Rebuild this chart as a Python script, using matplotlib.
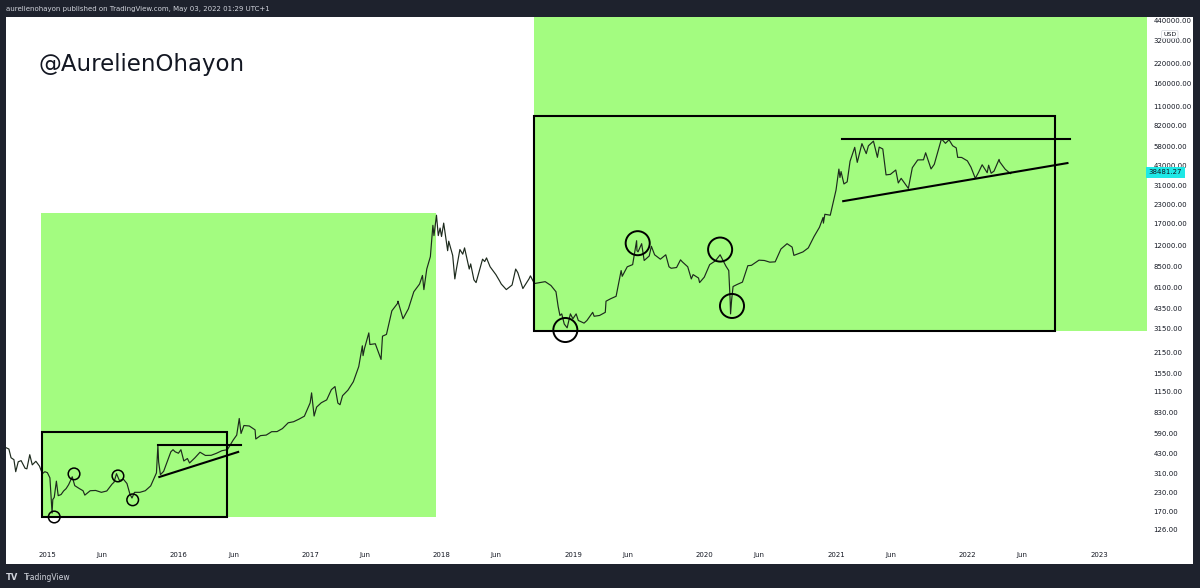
import numpy as np
import pandas as pd
import matplotlib
matplotlib.use("Agg")
import matplotlib.pyplot as plt
import matplotlib.dates as mdates
from matplotlib.patches import Rectangle

# ----------------------------
# Price data (BTC/USD)
# ----------------------------
dates = [
    "2014-09-08", "2014-09-16", "2014-09-22", "2014-09-30", "2014-10-05", "2014-10-12", "2014-10-20",
    "2014-10-31", "2014-11-05", "2014-11-13", "2014-11-20", "2014-11-30", "2014-12-10", "2014-12-18",
    "2014-12-25", "2015-01-01", "2015-01-08", "2015-01-14", "2015-01-16", "2015-01-20", "2015-01-26",
    "2015-01-31", "2015-02-08", "2015-02-15", "2015-02-22", "2015-03-01", "2015-03-11", "2015-03-18",
    "2015-03-31", "2015-04-10", "2015-04-15", "2015-04-30", "2015-05-15", "2015-05-31", "2015-06-15",
    "2015-06-30", "2015-07-05", "2015-07-12", "2015-07-20", "2015-07-31", "2015-08-10", "2015-08-18",
    "2015-08-24", "2015-08-31", "2015-09-15", "2015-09-30", "2015-10-15", "2015-10-31", "2015-11-04",
    "2015-11-06", "2015-11-11", "2015-11-20", "2015-11-30", "2015-12-10", "2015-12-16", "2015-12-22",
    "2015-12-31", "2016-01-07", "2016-01-15", "2016-01-25", "2016-01-31", "2016-02-15", "2016-02-29",
    "2016-03-15", "2016-03-31", "2016-04-15", "2016-04-30", "2016-05-15", "2016-05-31", "2016-06-10",
    "2016-06-17", "2016-06-22", "2016-06-30", "2016-07-15", "2016-07-31", "2016-08-02", "2016-08-15",
    "2016-08-31", "2016-09-15", "2016-09-30", "2016-10-15", "2016-10-31", "2016-11-15", "2016-11-30",
    "2016-12-15", "2016-12-31", "2017-01-04", "2017-01-11", "2017-01-18", "2017-01-31", "2017-02-15",
    "2017-02-28", "2017-03-10", "2017-03-18", "2017-03-24", "2017-03-31", "2017-04-15", "2017-04-30",
    "2017-05-15", "2017-05-25", "2017-05-27", "2017-05-31", "2017-06-12", "2017-06-15", "2017-06-30",
    "2017-07-16", "2017-07-20", "2017-07-31", "2017-08-15", "2017-08-31", "2017-09-01", "2017-09-15",
    "2017-09-30", "2017-10-15", "2017-10-31", "2017-11-08", "2017-11-12", "2017-11-20", "2017-11-30",
    "2017-12-07", "2017-12-10", "2017-12-17", "2017-12-22", "2017-12-27", "2017-12-31", "2018-01-06",
    "2018-01-10", "2018-01-17", "2018-01-20", "2018-01-31", "2018-02-06", "2018-02-10", "2018-02-20",
    "2018-02-28", "2018-03-05", "2018-03-18", "2018-03-22", "2018-03-31", "2018-04-06", "2018-04-24",
    "2018-04-30", "2018-05-05", "2018-05-15", "2018-05-31", "2018-06-10", "2018-06-15", "2018-06-29",
    "2018-07-15", "2018-07-25", "2018-07-31", "2018-08-14", "2018-08-31", "2018-09-04", "2018-09-15",
    "2018-09-30", "2018-10-15", "2018-10-31", "2018-11-14", "2018-11-20", "2018-11-25", "2018-11-30",
    "2018-12-07", "2018-12-15", "2018-12-24", "2018-12-31", "2019-01-09", "2019-01-15", "2019-01-31",
    "2019-02-08", "2019-02-24", "2019-02-28", "2019-03-15", "2019-03-31", "2019-04-02", "2019-04-15",
    "2019-04-30", "2019-05-14", "2019-05-17", "2019-05-31", "2019-06-15", "2019-06-26", "2019-06-27",
    "2019-06-30", "2019-07-10", "2019-07-17", "2019-07-31", "2019-08-06", "2019-08-15", "2019-08-31",
    "2019-09-15", "2019-09-24", "2019-09-30", "2019-10-15", "2019-10-26", "2019-10-31", "2019-11-15",
    "2019-11-25", "2019-11-30", "2019-12-15", "2019-12-18", "2019-12-31", "2020-01-15", "2020-01-31",
    "2020-02-13", "2020-02-29", "2020-03-08", "2020-03-12", "2020-03-13", "2020-03-16", "2020-03-20",
    "2020-03-31", "2020-04-15", "2020-04-30", "2020-05-10", "2020-05-31", "2020-06-15", "2020-06-30",
    "2020-07-15", "2020-07-31", "2020-08-17", "2020-08-31", "2020-09-05", "2020-09-30", "2020-10-15",
    "2020-10-31", "2020-11-15", "2020-11-25", "2020-11-26", "2020-11-30", "2020-12-15", "2020-12-31",
    "2021-01-08", "2021-01-11", "2021-01-14", "2021-01-22", "2021-01-31", "2021-02-08", "2021-02-21",
    "2021-02-28", "2021-03-13", "2021-03-25", "2021-03-31", "2021-04-14", "2021-04-25", "2021-04-30",
    "2021-05-10", "2021-05-19", "2021-05-31", "2021-06-15", "2021-06-22", "2021-06-30", "2021-07-20",
    "2021-07-31", "2021-08-15", "2021-08-31", "2021-09-06", "2021-09-21", "2021-09-30", "2021-10-20",
    "2021-10-31", "2021-11-10", "2021-11-20", "2021-11-30", "2021-12-04", "2021-12-15", "2021-12-31",
    "2022-01-10", "2022-01-22", "2022-01-31", "2022-02-10", "2022-02-24", "2022-02-28", "2022-03-07",
    "2022-03-15", "2022-03-29", "2022-03-31", "2022-04-15", "2022-04-30", "2022-05-02",
]
prices = [
    470, 460, 400, 388, 320, 375, 382,
    338, 335, 420, 357, 378, 350, 310,
    320, 315, 290, 165, 205, 212, 275,
    218, 222, 235, 244, 260, 295, 256,
    244, 236, 220, 236, 237, 230, 235,
    263, 270, 310, 278, 284, 265, 225,
    210, 230, 230, 236, 255, 314, 490,
    375, 305, 322, 377, 440, 455, 440,
    430, 455, 380, 395, 368, 400, 437,
    415, 416, 430, 448, 455, 530, 575,
    750, 590, 670, 665, 625, 540, 570,
    575, 607, 608, 638, 700, 712, 742,
    778, 963, 1130, 780, 900, 965, 1010,
    1190, 1250, 960, 935, 1080, 1180, 1350,
    1720, 2400, 2050, 2300, 2950, 2450, 2480,
    1930, 2800, 2880, 4200, 4740, 4900, 3700,
    4340, 5700, 6450, 7400, 5900, 8200, 10000,
    16500, 14000, 19400, 14000, 15800, 13800, 17100,
    14500, 11000, 12800, 10200, 7000, 8100, 11200,
    10400, 11500, 8200, 8900, 6900, 6600, 9600,
    9240, 9800, 8500, 7500, 6800, 6450, 5900,
    6350, 8200, 7730, 6000, 7000, 7350, 6500,
    6600, 6700, 6300, 5700, 4500, 3900, 4000,
    3400, 3200, 4000, 3700, 4000, 3600, 3450,
    3600, 4100, 3850, 3900, 4100, 4900, 5100,
    5300, 8000, 7300, 8500, 8800, 12900, 11000,
    10800, 12300, 9400, 10100, 11800, 10300, 9600,
    10300, 8500, 8300, 8400, 9500, 9200, 8500,
    7000, 7500, 7100, 6600, 7200, 8800, 9350,
    10300, 8600, 8000, 4900, 4000, 5000, 6200,
    6400, 6650, 8650, 8700, 9450, 9400, 9150,
    9200, 11300, 12300, 11650, 10200, 10780, 11500,
    13800, 16000, 18700, 17100, 19700, 19400, 29000,
    40600, 35500, 39000, 32000, 33100, 46000, 57500,
    45200, 61000, 52000, 58900, 63500, 49000, 57700,
    56000, 37000, 37300, 40000, 32500, 35000, 29800,
    41500, 47000, 47100, 52700, 40700, 43800, 65900,
    61300, 64900, 59000, 57000, 49000, 48900, 46300,
    41800, 35000, 38500, 43500, 38300, 43200, 38000,
    39300, 47400, 45500, 40500, 37700, 38481,
]

# Price scale ticks and time axis labels
ytick_values = [126, 170, 230, 310, 430, 590, 830, 1150, 1550, 2150, 3150, 4350, 6100,
                8500, 12000, 17000, 23000, 31000, 43000, 58000, 82000, 110000, 160000,
                220000, 320000, 440000]
xtick_dates = ["2015-01-01", "2015-06-01", "2016-01-01", "2016-06-01", "2017-01-01", "2017-06-01",
               "2018-01-01", "2018-06-01", "2019-01-01", "2019-06-01", "2020-01-01", "2020-06-01",
               "2021-01-01", "2021-06-01", "2022-01-01", "2022-06-01", "2023-01-01"]
xtick_labels = ["2015", "Jun", "2016", "Jun", "2017", "Jun", "2018", "Jun", "2019", "Jun",
                "2020", "Jun", "2021", "Jun", "2022", "Jun", "2023"]

# Drawings: zones (x0, x1, low, high)
green_zones = [("2014-12-15", "2017-12-16", 155, 20100),
               ("2018-09-14", "2023-06-30", 3040, 900000)]
black_boxes = [("2014-12-18", "2016-05-14", 155, 605),
               ("2018-09-14", "2022-09-01", 3040, 94900)]
# trend lines (x0, y0, x1, y1)
trend_lines = [("2015-11-04", 491, "2016-06-23", 491),
               ("2015-11-08", 294, "2016-06-14", 439),
               ("2021-01-17", 65700, "2022-10-12", 65700),
               ("2021-01-20", 24300, "2022-10-05", 44700)]
big_circles_x = ["2018-12-10", "2019-06-29", "2020-02-13", "2020-03-17"]
big_circles_y = [3090, 12400, 11200, 4540]
small_circles_x = ["2015-01-20", "2015-03-16", "2015-07-16", "2015-08-26"]
small_circles_y = [155, 309, 299, 204]

last_price = 38481.27

# ----------------------------
# Figure
# ----------------------------
BG = "#1e222d"
GREEN = "#a3fc80"
W, H = 1200, 588
fig = plt.figure(figsize=(12, 5.88), dpi=100, facecolor=BG)

# white chart panel (behind the axes)
fig.patches.append(Rectangle((6 / W, 1 - 564 / H), 1187 / W, 547 / H,
                             transform=fig.transFigure, facecolor="white",
                             edgecolor="none", zorder=-5))

ax = fig.add_axes([6 / W, 1 - 545 / H, 1141 / W, 528 / H])
ax.set_facecolor("none")
ax.set_yscale("log")
ax.set_xlim(pd.Timestamp("2014-09-08"), pd.Timestamp("2023-05-14"))
ax.set_ylim(99, 463000)

for x0, x1, lo, hi in green_zones:
    a, b = mdates.date2num(pd.Timestamp(x0)), mdates.date2num(pd.Timestamp(x1))
    ax.add_patch(Rectangle((a, lo), b - a, hi - lo, facecolor=GREEN, edgecolor="none", zorder=1))

ax.plot(pd.to_datetime(dates), prices, color="#1d2a1d", lw=0.85, zorder=3)

for x0, x1, lo, hi in black_boxes:
    a, b = mdates.date2num(pd.Timestamp(x0)), mdates.date2num(pd.Timestamp(x1))
    ax.add_patch(Rectangle((a, lo), b - a, hi - lo, facecolor="none", edgecolor="black",
                           lw=1.5, zorder=4))

for x0, y0, x1, y1 in trend_lines:
    ax.plot(pd.to_datetime([x0, x1]), [y0, y1], color="black", lw=1.5, zorder=4)

ax.scatter(pd.to_datetime(big_circles_x), big_circles_y, s=300, facecolors="none",
           edgecolors="black", linewidths=1.4, zorder=5)
ax.scatter(pd.to_datetime(small_circles_x), small_circles_y, s=70, facecolors="none",
           edgecolors="black", linewidths=1.1, zorder=5)

# axes styling
for s in ax.spines.values():
    s.set_visible(False)
ax.yaxis.tick_right()
ax.set_yticks(ytick_values)
ax.set_yticklabels([f"{v:.2f}" for v in ytick_values])
ax.yaxis.set_minor_locator(matplotlib.ticker.NullLocator())
ax.set_xticks(pd.to_datetime(xtick_dates))
ax.set_xticklabels(xtick_labels)
ax.tick_params(axis="y", length=0, pad=4.5, labelsize=5, labelcolor="#131722")
ax.tick_params(axis="x", length=0, pad=5, labelsize=5, labelcolor="#131722")

# last price label
ax.text(1.0015, last_price, f"{last_price:.2f}", transform=ax.get_yaxis_transform(),
        ha="left", va="center", fontsize=5, color="#131722",
        bbox=dict(boxstyle="square,pad=0.35", facecolor="#1ee8e6", edgecolor="none"))
ax.text(1.02, 350000, "USD", transform=ax.get_yaxis_transform(), ha="center", va="center",
        fontsize=4.5, color="#131722",
        bbox=dict(boxstyle="round,pad=0.25", facecolor="white", edgecolor="#d1d4dc", lw=0.5))

# texts
fig.text(38 / W, 1 - 65 / H, "@AurelienOhayon", fontsize=16.5, color="#131722",
         ha="left", va="center")
fig.text(6 / W, 1 - 9 / H, "aurelienohayon published on TradingView.com, May 03, 2022 01:29 UTC+1",
         fontsize=5, color="#d1d4dc", ha="left", va="center")
fig.text(6 / W, 1 - 578 / H, "TV", fontsize=6, fontweight="bold", color="#d1d4dc",
         ha="left", va="center")
fig.text(24 / W, 1 - 578 / H, "TradingView", fontsize=5.5, color="#d1d4dc",
         ha="left", va="center")

fig.savefig("out.png", dpi=100, facecolor=BG)
